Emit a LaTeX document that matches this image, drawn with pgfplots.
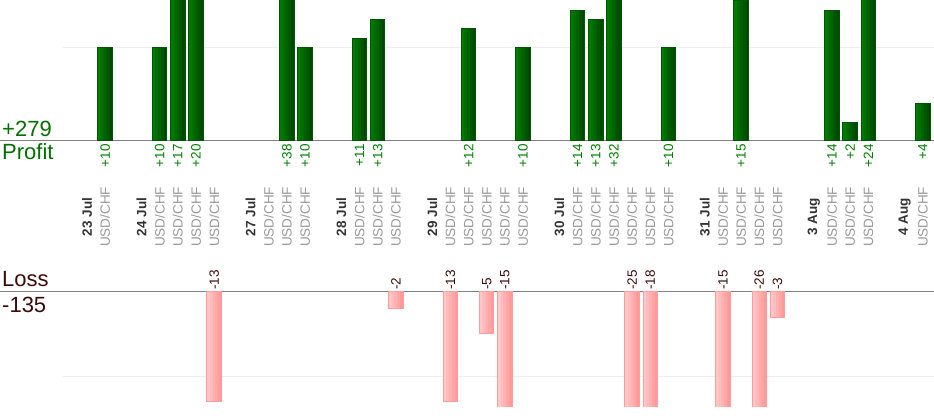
\documentclass[border=0pt]{standalone}
\usepackage{pgfplots}
\pgfplotsset{compat=1.18}
\usepackage{pgfplotstable}
\usepackage{fontspec}
\setmainfont{Liberation Sans}
\definecolor{pgreen}{HTML}{007000}
\definecolor{plabel}{HTML}{008000}
\definecolor{gA}{HTML}{007A00}
\definecolor{gB}{HTML}{006E00}
\definecolor{gC}{HTML}{006200}
\definecolor{gD}{HTML}{005600}
\definecolor{gE}{HTML}{004A00}
\definecolor{barB}{HTML}{005500}
\definecolor{rA}{HTML}{FFC8C8}
\definecolor{rB}{HTML}{FFBCBC}
\definecolor{rC}{HTML}{FFB0B0}
\definecolor{rD}{HTML}{FFA5A5}
\definecolor{rE}{HTML}{FF9A9A}
\definecolor{lossB}{HTML}{FF9C9C}
\definecolor{lossT}{HTML}{3D0A0A}
\definecolor{axisgray}{HTML}{808080}
\definecolor{gridc}{HTML}{EEEEEE}
\definecolor{catgray}{HTML}{999999}
\definecolor{dategray}{HTML}{333333}
\newcommand{\U}{USD/CHF}
\newcommand{\D}[1]{\textcolor{dategray}{\bfseries #1}}

\pgfplotstableread{
x y base
1 10 0
4 10 0
5 17 0
6 20 0
11 38 0
12 10 0
15 11 0
16 13 0
21 12 0
24 10 0
27 14 0
28 13 0
29 32 0
32 10 0
36 15 0
41 14 0
42 2 0
43 24 0
46 4 0
}\profit

\pgfplotstableread{
x y base
7 -13 0
17 -2 0
20 -13 0
22 -5 0
23 -15 0
30 -25 0
31 -18 0
35 -15 0
37 -26 0
38 -3 0
}\loss

% cumulative strips: each narrower bar shares the right edge, giving a left-to-right gradient
\pgfplotsset{
  strip/.style n args={3}{ybar, bar width=#2pt, bar shift=#3pt, draw=none, fill=#1},
}

\begin{document}
\begin{tikzpicture}
\path[use as bounding box] (0pt,0pt) rectangle (934pt,420pt);
\begin{axis}[
  at={(0pt,279pt)}, anchor=south west,
  scale only axis, width=934pt, height=141pt,
  xmin=-4.788, xmax=46.615, ymin=0, ymax=15.08,
  axis x line*=bottom, axis y line=none,
  x axis line style={-, draw=axisgray, line width=1pt},
  ytick=\empty,
  xtick={0,1,3,4,5,6,7,9,10,11,12,14,15,16,17,19,20,21,22,23,24,26,27,28,29,30,31,32,34,35,36,37,38,40,41,42,43,45,46},
  xticklabels={\D{23 Jul},\U,\D{24 Jul},\U,\U,\U,\U,\D{27 Jul},\U,\U,\U,\D{28 Jul},\U,\U,\U,\D{29 Jul},\U,\U,\U,\U,\U,\D{30 Jul},\U,\U,\U,\U,\U,\U,\D{31 Jul},\U,\U,\U,\U,\D{3 Aug},\U,\U,\U,\D{4 Aug},\U},
  major tick length=0pt,
  xtick style={draw=none},
  xticklabel style={rotate=90, anchor=center, inner sep=0pt, font=\fontsize{13.5}{14}\selectfont, text=catgray},
  xticklabel shift=76pt,
]
\draw[gridc, line width=1pt] (axis cs:-1.32,10) -- (axis cs:46.615,10);
\addplot[strip={gA}{14.5}{0}] table[x=x,y=y] {\profit};
\addplot[strip={gB}{11.6}{1.45}] table[x=x,y=y] {\profit};
\addplot[strip={gC}{8.7}{2.9}] table[x=x,y=y] {\profit};
\addplot[strip={gD}{5.8}{4.35}] table[x=x,y=y] {\profit};
\addplot[strip={gE}{2.9}{5.8}] table[x=x,y=y] {\profit};
\addplot[ybar, bar width=14.5pt, bar shift=0pt, draw=barB, line width=1pt, fill=none] table[x=x,y=y] {\profit};
\addplot[only marks, mark=*, mark size=0pt, mark options={draw=none,fill=none},
  point meta=explicit symbolic,
  nodes near coords={+\pgfplotspointmeta},
  every node near coord/.append style={yshift=-3pt, rotate=90, anchor=east, inner sep=0pt, text=plabel, font=\fontsize{13.5}{13.5}\selectfont}]
  table[x=x, y=base, meta=y] {\profit};
\end{axis}

\begin{axis}[
  at={(0pt,13pt)}, anchor=south west,
  scale only axis, width=934pt, height=115pt,
  xmin=-4.788, xmax=46.615, ymin=-13.69, ymax=0,
  axis x line*=top, axis y line=none,
  x axis line style={-, draw=axisgray, line width=1pt},
  xtick=\empty, ytick=\empty,
]
\draw[gridc, line width=1pt] (axis cs:-1.32,-10) -- (axis cs:46.615,-10);
\addplot[strip={rA}{14.5}{0}] table[x=x,y=y] {\loss};
\addplot[strip={rB}{11.6}{1.45}] table[x=x,y=y] {\loss};
\addplot[strip={rC}{8.7}{2.9}] table[x=x,y=y] {\loss};
\addplot[strip={rD}{5.8}{4.35}] table[x=x,y=y] {\loss};
\addplot[strip={rE}{2.9}{5.8}] table[x=x,y=y] {\loss};
\addplot[ybar, bar width=14.5pt, bar shift=0pt, draw=lossB, line width=1pt, fill=none] table[x=x,y=y] {\loss};
\addplot[only marks, mark=*, mark size=0pt, mark options={draw=none,fill=none},
  point meta=explicit symbolic,
  nodes near coords={\pgfplotspointmeta},
  every node near coord/.append style={yshift=2pt, rotate=90, anchor=west, inner sep=0pt, text=lossT, font=\fontsize{13.5}{13.5}\selectfont}]
  table[x=x, y=base, meta=y] {\loss};
\end{axis}

\node[anchor=base west, inner sep=0pt, text=pgreen, font=\fontsize{22}{22}\selectfont] at (2pt,283pt) {+279};
\node[anchor=base west, inner sep=0pt, text=pgreen, font=\fontsize{22}{22}\selectfont] at (2pt,260pt) {Profit};
\node[anchor=base west, inner sep=0pt, text=lossT, font=\fontsize{22}{22}\selectfont] at (2pt,133pt) {Loss};
\node[anchor=base west, inner sep=0pt, text=lossT, font=\fontsize{22}{22}\selectfont] at (2pt,107pt) {-135};
\end{tikzpicture}
\end{document}
